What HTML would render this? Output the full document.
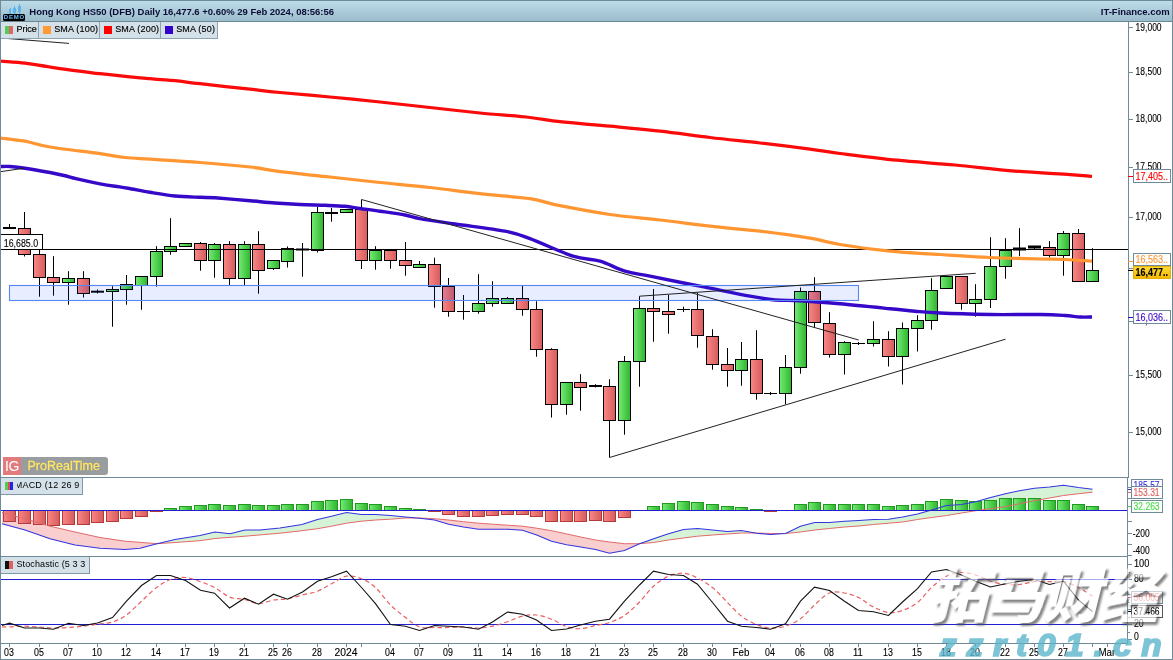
<!DOCTYPE html>
<html lang="en"><head><meta charset="utf-8"><title>Hong Kong HS50 (DFB) Daily</title>
<style>
html,body{margin:0;padding:0;background:#fff;}
body{width:1173px;height:660px;position:relative;overflow:hidden;font-family:"Liberation Sans", sans-serif;}
#frame{position:absolute;left:0;top:0;width:1173px;height:660px;box-sizing:border-box;border-left:1px solid #6f8a98;border-right:1px solid #6f8a98;border-bottom:1px solid #6f8a98;pointer-events:none;z-index:9}
#hdr{position:absolute;left:0;top:0;width:1173px;height:22px;box-sizing:border-box;border-top:1px solid #708b98;border-bottom:1px solid #6b8794;background:linear-gradient(#bddcea,#9bbccb);}
#title{position:absolute;left:29.3px;top:3.5px;font-size:9.5px;line-height:13px;font-weight:bold;color:#0c0c34;white-space:nowrap;letter-spacing:-0.02px}
#itf{position:absolute;right:3.3px;top:3.5px;font-size:9.5px;line-height:13px;font-weight:bold;color:#0c0c34;white-space:nowrap;letter-spacing:-0.02px}
#demo{position:absolute;left:3px;top:13px;width:22px;height:7px;background:#000;border-radius:1.5px;color:#6bbcff;font-size:6px;line-height:7.5px;font-weight:bold;text-align:center;letter-spacing:0.75px;text-indent:0.6px;overflow:hidden}
.ic{position:absolute;background:#5ab4f0}
#legend{position:absolute;left:1px;top:22px;height:16px;display:flex;background:#d4e1e8;border-bottom:1px solid #8ea5b1;font-size:10px;line-height:15px;color:#000;white-space:nowrap}
#legend .it{position:relative;height:16px;box-sizing:border-box;border-right:1px solid #8ea5b1;}
#legend .sq{position:absolute;top:4px;width:8px;height:8px}
#legend .tx{position:absolute;top:-0.4px;font-size:9px;letter-spacing:0.17px;-webkit-text-stroke:0.15px #000}
.plab{position:absolute;left:1px;height:17px;box-sizing:border-box;background:#d4e1e8;border-right:1px solid #8199a6;border-bottom:1px solid #8199a6;font-size:9px;line-height:16px;white-space:nowrap;overflow:hidden}
.ptx{position:absolute;top:-1px;height:17px;overflow:hidden;letter-spacing:0.12px}
#prt{position:absolute;left:3px;top:457px;height:18px;width:105px;background:#9a9da0;border-radius:0 3px 3px 0;overflow:hidden}
#prt .ig{position:absolute;left:0;top:0;width:18px;height:18px;background:#e27c7c;color:#fff;font-size:14px;line-height:18px;text-align:center;letter-spacing:-0.5px}
#prt .pt{position:absolute;left:24.5px;top:0;font-size:12.5px;line-height:18px;color:#ffe86a;-webkit-text-stroke:0.3px #ffe86a;text-shadow:0 0 1px #7d7d60}
#wm1{position:absolute;left:924px;top:557px;font-family:"Liberation Sans","Noto Sans CJK SC",sans-serif;font-weight:900;font-size:58px;line-height:80px;color:#fff;white-space:nowrap;transform:skewX(-14deg);transform-origin:left bottom;filter:url(#wmf);letter-spacing:-1px;z-index:5}
#wm2{position:absolute;left:940px;top:625.2px;font-weight:bold;font-style:italic;font-size:31.5px;line-height:40px;letter-spacing:9.3px;color:#5cb6cc;-webkit-text-stroke:1.7px #5cb6cc;opacity:0.8;white-space:nowrap;transform:scaleX(1.06);transform-origin:left center;z-index:5}
</style></head>
<body>
<svg width="1173" height="660" viewBox="0 0 1173 660" style="position:absolute;left:0;top:0" font-family='"Liberation Sans", sans-serif' font-size="10">
<defs>
<linearGradient id="gg" x1="0" x2="1" y1="0" y2="0"><stop offset="0" stop-color="#74ec74"/><stop offset="1" stop-color="#2fb52f"/></linearGradient>
<linearGradient id="gr" x1="0" x2="1" y1="0" y2="0"><stop offset="0" stop-color="#fa8686"/><stop offset="1" stop-color="#d55c5c"/></linearGradient>
<filter id="wmf" x="-5%" y="-10%" width="115%" height="130%" color-interpolation-filters="sRGB">
<feGaussianBlur in="SourceAlpha" stdDeviation="0.9" result="b"/>
<feOffset in="b" dx="3" dy="2.6" result="ob"/>
<feComposite in="ob" in2="SourceAlpha" operator="out" result="so"/>
<feFlood flood-color="#505050" flood-opacity="0.7"/>
<feComposite in2="so" operator="in" result="sh"/>
<feComponentTransfer in="SourceGraphic" result="sg"><feFuncA type="linear" slope="0.62"/></feComponentTransfer>
<feMerge><feMergeNode in="sh"/><feMergeNode in="sg"/></feMerge>
</filter>
<linearGradient id="gy" x1="0" x2="0" y1="0" y2="1"><stop offset="0" stop-color="#ffdb3d"/><stop offset="1" stop-color="#f3b600"/></linearGradient>
<clipPath id="cm"><rect x="1" y="22" width="1127" height="455"/></clipPath>
<clipPath id="cmacd"><rect x="1" y="478" width="1126" height="78"/></clipPath>
<clipPath id="cst"><rect x="1" y="557" width="1126" height="86"/></clipPath>
</defs>
<g clip-path="url(#cm)">
<rect x="9.0" y="224.0" width="1" height="5.0" fill="#000"/>
<rect x="3" y="227.0" width="13" height="2" fill="#000"/>
<rect x="24.0" y="212.0" width="1" height="44.5" fill="#000"/>
<rect x="18.5" y="228.5" width="12" height="26" fill="url(#gr)" stroke="#000" stroke-width="1"/>
<rect x="39.0" y="250.0" width="1" height="46.7" fill="#000"/>
<rect x="33.5" y="254.5" width="12" height="23" fill="url(#gr)" stroke="#000" stroke-width="1"/>
<rect x="53.0" y="256.2" width="1" height="39.5" fill="#000"/>
<rect x="47.5" y="277.5" width="12" height="5" fill="url(#gr)" stroke="#000" stroke-width="1"/>
<rect x="68.0" y="271.2" width="1" height="33.5" fill="#000"/>
<rect x="62.5" y="278.5" width="12" height="4" fill="url(#gg)" stroke="#000" stroke-width="1"/>
<rect x="83.0" y="271.2" width="1" height="26.3" fill="#000"/>
<rect x="77.5" y="278.5" width="12" height="15" fill="url(#gr)" stroke="#000" stroke-width="1"/>
<rect x="97.0" y="289.5" width="1" height="4.0" fill="#000"/>
<rect x="91" y="290.7" width="13" height="2" fill="#000"/>
<rect x="112.0" y="286.2" width="1" height="40.5" fill="#000"/>
<rect x="106.5" y="289.5" width="12" height="2" fill="url(#gg)" stroke="#000" stroke-width="1"/>
<rect x="126.0" y="275.0" width="1" height="29.7" fill="#000"/>
<rect x="120.5" y="284.5" width="12" height="5" fill="url(#gg)" stroke="#000" stroke-width="1"/>
<rect x="141.0" y="276.5" width="1" height="33.2" fill="#000"/>
<rect x="135.5" y="276.5" width="12" height="9" fill="url(#gg)" stroke="#000" stroke-width="1"/>
<rect x="156.0" y="246.2" width="1" height="40.5" fill="#000"/>
<rect x="150.5" y="251.5" width="12" height="25" fill="url(#gg)" stroke="#000" stroke-width="1"/>
<rect x="170.0" y="218.2" width="1" height="36.5" fill="#000"/>
<rect x="164.5" y="246.5" width="12" height="5" fill="url(#gg)" stroke="#000" stroke-width="1"/>
<rect x="185.0" y="243.2" width="1" height="3.3" fill="#000"/>
<rect x="179.5" y="243.5" width="12" height="3" fill="url(#gg)" stroke="#000" stroke-width="1"/>
<rect x="200.0" y="242.0" width="1" height="28.7" fill="#000"/>
<rect x="194.5" y="243.5" width="12" height="17" fill="url(#gr)" stroke="#000" stroke-width="1"/>
<rect x="214.0" y="243.0" width="1" height="34.7" fill="#000"/>
<rect x="208.5" y="244.5" width="12" height="16" fill="url(#gg)" stroke="#000" stroke-width="1"/>
<rect x="229.0" y="241.2" width="1" height="43.8" fill="#000"/>
<rect x="223.5" y="244.5" width="12" height="34" fill="url(#gr)" stroke="#000" stroke-width="1"/>
<rect x="244.0" y="241.2" width="1" height="43.8" fill="#000"/>
<rect x="238.5" y="244.5" width="12" height="34" fill="url(#gg)" stroke="#000" stroke-width="1"/>
<rect x="258.0" y="231.2" width="1" height="62.5" fill="#000"/>
<rect x="252.5" y="244.5" width="12" height="26" fill="url(#gr)" stroke="#000" stroke-width="1"/>
<rect x="273.0" y="260.5" width="1" height="9.5" fill="#000"/>
<rect x="267.5" y="260.5" width="12" height="8" fill="url(#gg)" stroke="#000" stroke-width="1"/>
<rect x="287.0" y="246.5" width="1" height="21.0" fill="#000"/>
<rect x="281.5" y="248.5" width="12" height="13" fill="url(#gg)" stroke="#000" stroke-width="1"/>
<rect x="302.0" y="243.0" width="1" height="33.7" fill="#000"/>
<rect x="296" y="248.5" width="13" height="2" fill="#000"/>
<rect x="317.0" y="207.0" width="1" height="45.5" fill="#000"/>
<rect x="311.5" y="212.5" width="12" height="38" fill="url(#gg)" stroke="#000" stroke-width="1"/>
<rect x="331.0" y="208.0" width="1" height="13.7" fill="#000"/>
<rect x="325" y="212.0" width="13" height="2" fill="#000"/>
<rect x="346.0" y="209.5" width="1" height="3.0" fill="#000"/>
<rect x="340.5" y="209.5" width="12" height="3" fill="url(#gg)" stroke="#000" stroke-width="1"/>
<rect x="361.0" y="199.5" width="1" height="69.5" fill="#000"/>
<rect x="355.5" y="209.5" width="12" height="51" fill="url(#gr)" stroke="#000" stroke-width="1"/>
<rect x="375.0" y="246.2" width="1" height="23.5" fill="#000"/>
<rect x="369.5" y="250.5" width="12" height="10" fill="url(#gg)" stroke="#000" stroke-width="1"/>
<rect x="390.0" y="250.2" width="1" height="18.5" fill="#000"/>
<rect x="384.5" y="250.5" width="12" height="10" fill="url(#gr)" stroke="#000" stroke-width="1"/>
<rect x="405.0" y="242.0" width="1" height="33.7" fill="#000"/>
<rect x="399.5" y="260.5" width="12" height="5" fill="url(#gr)" stroke="#000" stroke-width="1"/>
<rect x="419.0" y="261.0" width="1" height="6.2" fill="#000"/>
<rect x="413.5" y="264.5" width="12" height="3" fill="url(#gg)" stroke="#000" stroke-width="1"/>
<rect x="434.0" y="257.7" width="1" height="50.0" fill="#000"/>
<rect x="428.5" y="264.5" width="12" height="22" fill="url(#gr)" stroke="#000" stroke-width="1"/>
<rect x="448.0" y="278.0" width="1" height="38.7" fill="#000"/>
<rect x="442.5" y="286.5" width="12" height="25" fill="url(#gr)" stroke="#000" stroke-width="1"/>
<rect x="463.0" y="295.0" width="1" height="24.7" fill="#000"/>
<rect x="457" y="311" width="13" height="1" fill="#000"/>
<rect x="478.0" y="274.2" width="1" height="39.5" fill="#000"/>
<rect x="472.5" y="303.5" width="12" height="8" fill="url(#gg)" stroke="#000" stroke-width="1"/>
<rect x="492.0" y="281.2" width="1" height="25.5" fill="#000"/>
<rect x="486.5" y="298.5" width="12" height="5" fill="url(#gg)" stroke="#000" stroke-width="1"/>
<rect x="507.0" y="297.0" width="1" height="6.2" fill="#000"/>
<rect x="501.5" y="298.5" width="12" height="5" fill="url(#gg)" stroke="#000" stroke-width="1"/>
<rect x="522.0" y="285.5" width="1" height="30.2" fill="#000"/>
<rect x="516.5" y="298.5" width="12" height="11" fill="url(#gr)" stroke="#000" stroke-width="1"/>
<rect x="536.0" y="301.2" width="1" height="55.5" fill="#000"/>
<rect x="530.5" y="309.5" width="12" height="40" fill="url(#gr)" stroke="#000" stroke-width="1"/>
<rect x="551.0" y="348.2" width="1" height="69.3" fill="#000"/>
<rect x="545.5" y="349.5" width="12" height="55" fill="url(#gr)" stroke="#000" stroke-width="1"/>
<rect x="566.0" y="382.2" width="1" height="32.5" fill="#000"/>
<rect x="560.5" y="382.5" width="12" height="22" fill="url(#gg)" stroke="#000" stroke-width="1"/>
<rect x="580.0" y="374.2" width="1" height="36.5" fill="#000"/>
<rect x="574.5" y="382.5" width="12" height="5" fill="url(#gr)" stroke="#000" stroke-width="1"/>
<rect x="595.0" y="384.2" width="1" height="3.3" fill="#000"/>
<rect x="589" y="385.0" width="13" height="2" fill="#000"/>
<rect x="609.0" y="379.2" width="1" height="78.3" fill="#000"/>
<rect x="603.5" y="386.5" width="12" height="34" fill="url(#gr)" stroke="#000" stroke-width="1"/>
<rect x="624.0" y="356.0" width="1" height="78.7" fill="#000"/>
<rect x="618.5" y="361.5" width="12" height="59" fill="url(#gg)" stroke="#000" stroke-width="1"/>
<rect x="639.0" y="296.2" width="1" height="90.5" fill="#000"/>
<rect x="633.5" y="308.5" width="12" height="53" fill="url(#gg)" stroke="#000" stroke-width="1"/>
<rect x="653.0" y="289.0" width="1" height="52.7" fill="#000"/>
<rect x="647.5" y="308.5" width="12" height="3" fill="url(#gr)" stroke="#000" stroke-width="1"/>
<rect x="668.0" y="295.0" width="1" height="38.7" fill="#000"/>
<rect x="662.5" y="311.5" width="12" height="3" fill="url(#gr)" stroke="#000" stroke-width="1"/>
<rect x="683.0" y="306.7" width="1" height="5.3" fill="#000"/>
<rect x="677" y="309" width="13" height="1" fill="#000"/>
<rect x="697.0" y="292.5" width="1" height="55.2" fill="#000"/>
<rect x="691.5" y="309.5" width="12" height="26" fill="url(#gr)" stroke="#000" stroke-width="1"/>
<rect x="712.0" y="329.2" width="1" height="40.5" fill="#000"/>
<rect x="706.5" y="336.5" width="12" height="28" fill="url(#gr)" stroke="#000" stroke-width="1"/>
<rect x="727.0" y="348.0" width="1" height="38.7" fill="#000"/>
<rect x="721.5" y="364.5" width="12" height="6" fill="url(#gr)" stroke="#000" stroke-width="1"/>
<rect x="741.0" y="342.0" width="1" height="43.7" fill="#000"/>
<rect x="735.5" y="359.5" width="12" height="11" fill="url(#gg)" stroke="#000" stroke-width="1"/>
<rect x="756.0" y="330.2" width="1" height="69.5" fill="#000"/>
<rect x="750.5" y="359.5" width="12" height="34" fill="url(#gr)" stroke="#000" stroke-width="1"/>
<rect x="770.0" y="392.0" width="1" height="3.0" fill="#000"/>
<rect x="764" y="393" width="13" height="1" fill="#000"/>
<rect x="785.0" y="355.0" width="1" height="49.2" fill="#000"/>
<rect x="779.5" y="367.5" width="12" height="26" fill="url(#gg)" stroke="#000" stroke-width="1"/>
<rect x="800.0" y="287.5" width="1" height="86.2" fill="#000"/>
<rect x="794.5" y="291.5" width="12" height="76" fill="url(#gg)" stroke="#000" stroke-width="1"/>
<rect x="814.0" y="277.2" width="1" height="50.8" fill="#000"/>
<rect x="808.5" y="291.5" width="12" height="31" fill="url(#gr)" stroke="#000" stroke-width="1"/>
<rect x="829.0" y="312.2" width="1" height="45.3" fill="#000"/>
<rect x="823.5" y="323.5" width="12" height="31" fill="url(#gr)" stroke="#000" stroke-width="1"/>
<rect x="844.0" y="341.2" width="1" height="33.3" fill="#000"/>
<rect x="838.5" y="342.5" width="12" height="12" fill="url(#gg)" stroke="#000" stroke-width="1"/>
<rect x="858.0" y="342.0" width="1" height="3.0" fill="#000"/>
<rect x="852" y="343" width="13" height="1" fill="#000"/>
<rect x="873.0" y="321.2" width="1" height="25.3" fill="#000"/>
<rect x="867.5" y="339.5" width="12" height="4" fill="url(#gg)" stroke="#000" stroke-width="1"/>
<rect x="888.0" y="331.2" width="1" height="35.3" fill="#000"/>
<rect x="882.5" y="339.5" width="12" height="17" fill="url(#gr)" stroke="#000" stroke-width="1"/>
<rect x="902.0" y="322.5" width="1" height="62.0" fill="#000"/>
<rect x="896.5" y="328.5" width="12" height="28" fill="url(#gg)" stroke="#000" stroke-width="1"/>
<rect x="917.0" y="315.2" width="1" height="36.3" fill="#000"/>
<rect x="911.5" y="320.5" width="12" height="8" fill="url(#gg)" stroke="#000" stroke-width="1"/>
<rect x="931.0" y="278.2" width="1" height="51.5" fill="#000"/>
<rect x="925.5" y="290.5" width="12" height="30" fill="url(#gg)" stroke="#000" stroke-width="1"/>
<rect x="946.0" y="275.5" width="1" height="13.0" fill="#000"/>
<rect x="940.5" y="276.5" width="12" height="12" fill="url(#gg)" stroke="#000" stroke-width="1"/>
<rect x="961.0" y="276.5" width="1" height="33.2" fill="#000"/>
<rect x="955.5" y="276.5" width="12" height="27" fill="url(#gr)" stroke="#000" stroke-width="1"/>
<rect x="975.0" y="284.2" width="1" height="32.5" fill="#000"/>
<rect x="969.5" y="299.5" width="12" height="4" fill="url(#gg)" stroke="#000" stroke-width="1"/>
<rect x="990.0" y="237.2" width="1" height="70.8" fill="#000"/>
<rect x="984.5" y="266.5" width="12" height="33" fill="url(#gg)" stroke="#000" stroke-width="1"/>
<rect x="1005.0" y="238.2" width="1" height="40.5" fill="#000"/>
<rect x="999.5" y="250.5" width="12" height="16" fill="url(#gg)" stroke="#000" stroke-width="1"/>
<rect x="1019.0" y="228.2" width="1" height="28.0" fill="#000"/>
<rect x="1013" y="247.5" width="13" height="3" fill="#000"/>
<rect x="1034.0" y="246.2" width="1" height="2.8" fill="#000"/>
<rect x="1028" y="245.5" width="13" height="3" fill="#000"/>
<rect x="1049.0" y="241.2" width="1" height="16.3" fill="#000"/>
<rect x="1043.5" y="247.5" width="12" height="8" fill="url(#gr)" stroke="#000" stroke-width="1"/>
<rect x="1063.0" y="231.0" width="1" height="44.7" fill="#000"/>
<rect x="1057.5" y="233.5" width="12" height="22" fill="url(#gg)" stroke="#000" stroke-width="1"/>
<rect x="1078.0" y="229.0" width="1" height="52.5" fill="#000"/>
<rect x="1072.5" y="233.5" width="12" height="48" fill="url(#gr)" stroke="#000" stroke-width="1"/>
<rect x="1092.0" y="248.2" width="1" height="33.3" fill="#000"/>
<rect x="1086.5" y="270.5" width="12" height="11" fill="url(#gg)" stroke="#000" stroke-width="1"/>
<rect x="1" y="249" width="1127" height="1" fill="#000"/>
<path d="M1.0,61.1C5.0,61.5 16.8,62.2 25.0,63.2C33.2,64.2 37.5,65.2 50.0,67.0C62.5,68.8 83.3,71.8 100.0,73.7C116.7,75.7 137.5,77.5 150.0,78.7C162.5,79.9 166.7,79.9 175.0,80.7C183.3,81.5 187.5,82.3 200.0,83.7C212.5,85.1 236.7,87.7 250.0,89.2C263.3,90.7 266.7,91.2 280.0,92.5C293.3,93.8 313.3,95.4 330.0,97.0C346.7,98.6 363.3,100.2 380.0,102.0C396.7,103.8 413.3,105.7 430.0,107.5C446.7,109.3 463.3,111.3 480.0,113.0C496.7,114.7 516.7,116.0 530.0,117.5C543.3,119.0 546.7,120.2 560.0,121.7C573.3,123.2 593.3,124.6 610.0,126.2C626.7,127.8 643.3,129.3 660.0,131.2C676.7,133.1 693.3,135.5 710.0,137.5C726.7,139.5 743.3,141.1 760.0,143.0C776.7,144.9 796.7,147.4 810.0,149.2C823.3,150.9 825.5,151.7 840.0,153.5C854.5,155.3 877.8,158.3 897.0,160.2C916.2,162.1 935.8,163.2 955.0,165.0C974.2,166.8 992.8,169.2 1012.0,170.8C1031.2,172.4 1056.7,173.7 1070.0,174.6C1083.3,175.5 1088.3,176.0 1092.0,176.3" fill="none" stroke="#fb0a0a" stroke-width="3.25"/>
<path d="M1.0,138.1C5.0,138.6 16.8,139.7 25.0,141.2C33.2,142.7 37.5,144.9 50.0,147.0C62.5,149.1 87.5,151.9 100.0,153.7C112.5,155.4 116.7,156.6 125.0,157.5C133.3,158.4 137.5,158.4 150.0,159.2C162.5,160.0 183.3,161.2 200.0,162.5C216.7,163.8 236.7,165.5 250.0,167.0C263.3,168.5 266.7,170.0 280.0,171.7C293.3,173.4 313.3,175.2 330.0,177.0C346.7,178.8 363.3,180.8 380.0,182.5C396.7,184.2 413.3,185.6 430.0,187.5C446.7,189.4 463.3,191.8 480.0,193.7C496.7,195.6 516.7,196.7 530.0,198.7C543.3,200.7 546.7,203.1 560.0,205.7C573.3,208.3 593.3,212.1 610.0,214.5C626.7,216.9 643.3,218.1 660.0,220.0C676.7,221.9 693.3,224.3 710.0,226.2C726.7,228.1 743.3,229.2 760.0,231.2C776.7,233.2 796.7,236.0 810.0,238.2C823.3,240.4 826.7,242.3 840.0,244.5C853.3,246.7 873.3,249.5 890.0,251.2C906.7,252.9 923.3,253.4 940.0,254.5C956.7,255.6 973.3,256.8 990.0,257.5C1006.7,258.2 1027.5,258.7 1040.0,259.0C1052.5,259.3 1056.3,259.1 1065.0,259.5C1073.7,259.9 1087.5,260.9 1092.0,261.2" fill="none" stroke="#ff9632" stroke-width="3.25"/>
<path d="M1.0,166.5C2.5,166.5 6.0,166.2 10.0,166.5C14.0,166.8 18.3,167.2 25.0,168.2C31.7,169.2 43.5,171.3 50.0,172.5C56.5,173.7 59.5,174.4 64.0,175.5C68.5,176.6 71.0,177.5 77.0,178.9C83.0,180.3 93.7,182.6 100.0,183.8C106.3,185.0 110.3,185.6 115.0,186.3C119.7,187.0 122.2,187.2 128.0,188.2C133.8,189.2 142.2,191.0 150.0,192.3C157.8,193.6 166.7,195.2 175.0,196.0C183.3,196.8 193.3,197.0 200.0,197.3C206.7,197.6 206.7,197.2 215.0,197.8C223.3,198.4 240.0,199.8 250.0,200.7C260.0,201.6 266.7,202.4 275.0,203.0C283.3,203.6 291.7,204.1 300.0,204.5C308.3,204.9 317.5,205.0 325.0,205.3C332.5,205.6 339.2,205.8 345.0,206.3C350.8,206.8 354.2,207.7 360.0,208.5C365.8,209.3 372.5,210.1 380.0,211.2C387.5,212.3 398.3,213.8 405.0,215.0C411.7,216.2 411.7,217.2 420.0,218.7C428.3,220.2 440.8,221.9 455.0,224.0C469.2,226.1 492.5,228.8 505.0,231.2C517.5,233.6 518.7,234.5 530.0,238.7C541.3,242.9 561.3,252.4 573.0,256.2C584.7,259.9 591.3,258.7 600.0,261.2C608.7,263.7 616.7,268.7 625.0,271.2C633.3,273.7 637.5,273.7 650.0,276.2C662.5,278.7 683.3,282.9 700.0,286.2C716.7,289.5 737.5,293.9 750.0,296.2C762.5,298.5 766.7,299.2 775.0,300.0C783.3,300.8 789.2,300.1 800.0,300.7C810.8,301.3 825.0,302.4 840.0,303.7C855.0,305.0 877.5,307.4 890.0,308.7C902.5,309.9 906.7,310.5 915.0,311.2C923.3,311.9 927.5,312.4 940.0,313.0C952.5,313.6 973.3,314.2 990.0,314.5C1006.7,314.8 1027.5,314.3 1040.0,314.5C1052.5,314.7 1058.3,315.1 1065.0,315.5C1071.7,315.9 1075.5,316.8 1080.0,317.0C1084.5,317.2 1090.0,317.0 1092.0,317.0" fill="none" stroke="#3608c8" stroke-width="3.4"/>
<rect x="9.5" y="285.5" width="849" height="15" fill="rgba(0,50,255,0.09)" stroke="#5588f5" stroke-width="1.1"/>
<path d="M1,38 L69,43.4 M1,171.6 L24.3,168.2 M361.5,199.5 L858.7,340 M639.5,296.2 L975.7,273.3 M609.5,457.5 L1005.5,339.2" stroke="#222" stroke-width="1" fill="none"/>
</g>
<g clip-path="url(#cmacd)">
<polygon points="2.0,523.7 25.0,530.0 50.0,538.7 75.0,545.0 100.0,548.2 125.0,549.5 140.0,548.2 157.0,543.7 157.0,543.7 157.0,543.7 157.0,543.7 140.0,542.4 125.0,541.2 100.0,537.5 75.0,532.0 50.0,526.2 25.0,518.7 2.0,512.5" fill="#f8cece"/>
<polygon points="157.0,543.7 175.0,539.5 200.0,535.5 215.0,532.0 230.0,533.7 245.0,530.0 260.0,530.0 280.0,528.0 302.0,524.5 317.5,519.5 331.5,516.2 346.5,512.5 361.5,514.5 375.7,514.5 390.5,515.5 405.5,517.0 417.2,518.0 417.2,518.0 405.5,518.0 390.5,519.2 375.7,520.0 361.5,521.2 346.5,523.2 331.5,526.2 317.5,528.7 302.0,530.7 280.0,533.2 260.0,534.9 245.0,536.2 230.0,537.4 215.0,538.5 200.0,540.7 175.0,542.5 157.0,543.7" fill="#d7f3d7"/>
<polygon points="417.2,518.0 419.5,518.2 434.5,520.0 448.7,524.2 463.5,527.0 478.5,529.2 492.5,529.2 507.5,529.2 522.5,530.2 536.7,535.0 551.5,541.2 566.5,544.7 580.7,547.0 595.5,549.5 609.5,553.2 624.5,550.5 639.5,543.7 639.5,543.7 639.5,543.7 639.5,543.7 624.5,543.7 609.5,542.0 595.5,540.0 580.7,537.0 566.5,533.9 551.5,530.7 536.7,528.2 522.5,526.2 507.5,525.2 492.5,524.2 478.5,523.2 463.5,521.7 448.7,520.0 434.5,518.7 419.5,518.0 417.2,518.0" fill="#f8cece"/>
<polygon points="639.5,543.7 653.7,538.7 668.5,533.7 683.5,529.5 697.5,528.5 712.5,530.0 727.5,531.5 741.5,530.5 755.4,533.0 755.4,533.0 741.5,533.0 727.5,534.0 712.5,535.0 697.5,536.2 683.5,538.0 668.5,540.0 653.7,542.5 639.5,543.7" fill="#d7f3d7"/>
<polygon points="755.4,533.0 756.5,533.2 770.5,534.5 785.5,533.5 785.5,533.5 785.5,533.5 785.5,533.5 770.5,533.5 756.5,533.0 755.4,533.0" fill="#f8cece"/>
<polygon points="785.5,533.5 800.5,526.2 814.7,522.5 829.5,522.5 844.5,521.2 858.7,520.5 873.5,519.5 888.5,519.2 902.7,517.0 917.5,514.0 931.7,510.0 946.5,505.5 961.5,504.5 975.7,501.7 990.5,497.5 1005.5,493.7 1019.5,490.7 1034.5,488.2 1049.5,487.0 1063.5,485.2 1078.5,487.5 1092.5,489.2 1092.5,492.2 1078.5,493.7 1063.5,495.5 1049.5,498.0 1034.5,500.7 1019.5,503.7 1005.5,506.7 990.5,508.7 975.7,510.7 961.5,513.0 946.5,515.5 931.7,517.5 917.5,519.5 902.7,522.0 888.5,523.2 873.5,524.5 858.7,526.0 844.5,527.0 829.5,528.5 814.7,530.0 800.5,532.0 785.5,533.5" fill="#d7f3d7"/>
<rect x="3.5" y="510.5" width="12" height="11" fill="url(#gr)" stroke="#b53a3a" stroke-width="1"/>
<rect x="18.5" y="510.5" width="12" height="13" fill="url(#gr)" stroke="#b53a3a" stroke-width="1"/>
<rect x="33.5" y="510.5" width="12" height="14" fill="url(#gr)" stroke="#b53a3a" stroke-width="1"/>
<rect x="47.5" y="510.5" width="12" height="15" fill="url(#gr)" stroke="#b53a3a" stroke-width="1"/>
<rect x="62.5" y="510.5" width="12" height="14" fill="url(#gr)" stroke="#b53a3a" stroke-width="1"/>
<rect x="77.5" y="510.5" width="12" height="14" fill="url(#gr)" stroke="#b53a3a" stroke-width="1"/>
<rect x="91.5" y="510.5" width="12" height="12" fill="url(#gr)" stroke="#b53a3a" stroke-width="1"/>
<rect x="106.5" y="510.5" width="12" height="11" fill="url(#gr)" stroke="#b53a3a" stroke-width="1"/>
<rect x="120.5" y="510.5" width="12" height="8" fill="url(#gr)" stroke="#b53a3a" stroke-width="1"/>
<rect x="135.5" y="510.5" width="12" height="6" fill="url(#gr)" stroke="#b53a3a" stroke-width="1"/>
<rect x="150.5" y="510.5" width="12" height="1" fill="url(#gr)" stroke="#b53a3a" stroke-width="1"/>
<rect x="164.5" y="508.5" width="12" height="2" fill="url(#gg)" stroke="#1f9a1f" stroke-width="1"/>
<rect x="179.5" y="506.5" width="12" height="4" fill="url(#gg)" stroke="#1f9a1f" stroke-width="1"/>
<rect x="194.5" y="505.5" width="12" height="5" fill="url(#gg)" stroke="#1f9a1f" stroke-width="1"/>
<rect x="208.5" y="504.5" width="12" height="6" fill="url(#gg)" stroke="#1f9a1f" stroke-width="1"/>
<rect x="223.5" y="505.5" width="12" height="5" fill="url(#gg)" stroke="#1f9a1f" stroke-width="1"/>
<rect x="238.5" y="504.5" width="12" height="6" fill="url(#gg)" stroke="#1f9a1f" stroke-width="1"/>
<rect x="252.5" y="505.5" width="12" height="5" fill="url(#gg)" stroke="#1f9a1f" stroke-width="1"/>
<rect x="267.5" y="505.5" width="12" height="5" fill="url(#gg)" stroke="#1f9a1f" stroke-width="1"/>
<rect x="281.5" y="504.5" width="12" height="6" fill="url(#gg)" stroke="#1f9a1f" stroke-width="1"/>
<rect x="296.5" y="504.5" width="12" height="6" fill="url(#gg)" stroke="#1f9a1f" stroke-width="1"/>
<rect x="311.5" y="501.5" width="12" height="9" fill="url(#gg)" stroke="#1f9a1f" stroke-width="1"/>
<rect x="325.5" y="500.5" width="12" height="10" fill="url(#gg)" stroke="#1f9a1f" stroke-width="1"/>
<rect x="340.5" y="499.5" width="12" height="11" fill="url(#gg)" stroke="#1f9a1f" stroke-width="1"/>
<rect x="355.5" y="503.5" width="12" height="7" fill="url(#gg)" stroke="#1f9a1f" stroke-width="1"/>
<rect x="369.5" y="504.5" width="12" height="6" fill="url(#gg)" stroke="#1f9a1f" stroke-width="1"/>
<rect x="384.5" y="506.5" width="12" height="4" fill="url(#gg)" stroke="#1f9a1f" stroke-width="1"/>
<rect x="399.5" y="508.5" width="12" height="2" fill="url(#gg)" stroke="#1f9a1f" stroke-width="1"/>
<rect x="413.5" y="509.5" width="12" height="1" fill="url(#gg)" stroke="#1f9a1f" stroke-width="1"/>
<rect x="428.5" y="510.5" width="12" height="1" fill="url(#gr)" stroke="#b53a3a" stroke-width="1"/>
<rect x="442.5" y="510.5" width="12" height="4" fill="url(#gr)" stroke="#b53a3a" stroke-width="1"/>
<rect x="457.5" y="510.5" width="12" height="6" fill="url(#gr)" stroke="#b53a3a" stroke-width="1"/>
<rect x="472.5" y="510.5" width="12" height="6" fill="url(#gr)" stroke="#b53a3a" stroke-width="1"/>
<rect x="486.5" y="510.5" width="12" height="5" fill="url(#gr)" stroke="#b53a3a" stroke-width="1"/>
<rect x="501.5" y="510.5" width="12" height="4" fill="url(#gr)" stroke="#b53a3a" stroke-width="1"/>
<rect x="516.5" y="510.5" width="12" height="4" fill="url(#gr)" stroke="#b53a3a" stroke-width="1"/>
<rect x="530.5" y="510.5" width="12" height="6" fill="url(#gr)" stroke="#b53a3a" stroke-width="1"/>
<rect x="545.5" y="510.5" width="12" height="11" fill="url(#gr)" stroke="#b53a3a" stroke-width="1"/>
<rect x="560.5" y="510.5" width="12" height="11" fill="url(#gr)" stroke="#b53a3a" stroke-width="1"/>
<rect x="574.5" y="510.5" width="12" height="11" fill="url(#gr)" stroke="#b53a3a" stroke-width="1"/>
<rect x="589.5" y="510.5" width="12" height="10" fill="url(#gr)" stroke="#b53a3a" stroke-width="1"/>
<rect x="603.5" y="510.5" width="12" height="11" fill="url(#gr)" stroke="#b53a3a" stroke-width="1"/>
<rect x="618.5" y="510.5" width="12" height="7" fill="url(#gr)" stroke="#b53a3a" stroke-width="1"/>
<rect x="647.5" y="506.5" width="12" height="4" fill="url(#gg)" stroke="#1f9a1f" stroke-width="1"/>
<rect x="662.5" y="503.5" width="12" height="7" fill="url(#gg)" stroke="#1f9a1f" stroke-width="1"/>
<rect x="677.5" y="501.5" width="12" height="9" fill="url(#gg)" stroke="#1f9a1f" stroke-width="1"/>
<rect x="691.5" y="502.5" width="12" height="8" fill="url(#gg)" stroke="#1f9a1f" stroke-width="1"/>
<rect x="706.5" y="504.5" width="12" height="6" fill="url(#gg)" stroke="#1f9a1f" stroke-width="1"/>
<rect x="721.5" y="506.5" width="12" height="4" fill="url(#gg)" stroke="#1f9a1f" stroke-width="1"/>
<rect x="735.5" y="507.5" width="12" height="3" fill="url(#gg)" stroke="#1f9a1f" stroke-width="1"/>
<rect x="750.5" y="509.5" width="12" height="1" fill="url(#gg)" stroke="#1f9a1f" stroke-width="1"/>
<rect x="764.5" y="510.5" width="12" height="1" fill="url(#gr)" stroke="#b53a3a" stroke-width="1"/>
<rect x="794.5" y="504.5" width="12" height="6" fill="url(#gg)" stroke="#1f9a1f" stroke-width="1"/>
<rect x="808.5" y="502.5" width="12" height="8" fill="url(#gg)" stroke="#1f9a1f" stroke-width="1"/>
<rect x="823.5" y="504.5" width="12" height="6" fill="url(#gg)" stroke="#1f9a1f" stroke-width="1"/>
<rect x="838.5" y="504.5" width="12" height="6" fill="url(#gg)" stroke="#1f9a1f" stroke-width="1"/>
<rect x="852.5" y="504.5" width="12" height="6" fill="url(#gg)" stroke="#1f9a1f" stroke-width="1"/>
<rect x="867.5" y="504.5" width="12" height="6" fill="url(#gg)" stroke="#1f9a1f" stroke-width="1"/>
<rect x="882.5" y="506.5" width="12" height="4" fill="url(#gg)" stroke="#1f9a1f" stroke-width="1"/>
<rect x="896.5" y="505.5" width="12" height="5" fill="url(#gg)" stroke="#1f9a1f" stroke-width="1"/>
<rect x="911.5" y="504.5" width="12" height="6" fill="url(#gg)" stroke="#1f9a1f" stroke-width="1"/>
<rect x="925.5" y="501.5" width="12" height="9" fill="url(#gg)" stroke="#1f9a1f" stroke-width="1"/>
<rect x="940.5" y="499.5" width="12" height="11" fill="url(#gg)" stroke="#1f9a1f" stroke-width="1"/>
<rect x="955.5" y="500.5" width="12" height="10" fill="url(#gg)" stroke="#1f9a1f" stroke-width="1"/>
<rect x="969.5" y="501.5" width="12" height="9" fill="url(#gg)" stroke="#1f9a1f" stroke-width="1"/>
<rect x="984.5" y="500.5" width="12" height="10" fill="url(#gg)" stroke="#1f9a1f" stroke-width="1"/>
<rect x="999.5" y="498.5" width="12" height="12" fill="url(#gg)" stroke="#1f9a1f" stroke-width="1"/>
<rect x="1013.5" y="498.5" width="12" height="12" fill="url(#gg)" stroke="#1f9a1f" stroke-width="1"/>
<rect x="1028.5" y="498.5" width="12" height="12" fill="url(#gg)" stroke="#1f9a1f" stroke-width="1"/>
<rect x="1043.5" y="500.5" width="12" height="10" fill="url(#gg)" stroke="#1f9a1f" stroke-width="1"/>
<rect x="1057.5" y="500.5" width="12" height="10" fill="url(#gg)" stroke="#1f9a1f" stroke-width="1"/>
<rect x="1072.5" y="504.5" width="12" height="6" fill="url(#gg)" stroke="#1f9a1f" stroke-width="1"/>
<rect x="1086.5" y="506.5" width="12" height="4" fill="url(#gg)" stroke="#1f9a1f" stroke-width="1"/>
<polyline points="2.0,512.5 25.0,518.7 50.0,526.2 75.0,532.0 100.0,537.5 125.0,541.2 157.0,543.7 175.0,542.5 200.0,540.7 215.0,538.5 245.0,536.2 280.0,533.2 302.0,530.7 317.5,528.7 331.5,526.2 346.5,523.2 361.5,521.2 375.7,520.0 390.5,519.2 405.5,518.0 419.5,518.0 434.5,518.7 448.7,520.0 463.5,521.7 478.5,523.2 492.5,524.2 507.5,525.2 522.5,526.2 536.7,528.2 551.5,530.7 566.5,533.9 580.7,537.0 595.5,540.0 609.5,542.0 624.5,543.7 639.5,543.7 653.7,542.5 668.5,540.0 683.5,538.0 697.5,536.2 712.5,535.0 727.5,534.0 741.5,533.0 756.5,533.0 770.5,533.5 785.5,533.5 800.5,532.0 814.7,530.0 829.5,528.5 844.5,527.0 858.7,526.0 873.5,524.5 888.5,523.2 902.7,522.0 917.5,519.5 931.7,517.5 946.5,515.5 961.5,513.0 975.7,510.7 990.5,508.7 1005.5,506.7 1019.5,503.7 1034.5,500.7 1049.5,498.0 1063.5,495.5 1078.5,493.7 1092.5,492.2" fill="none" stroke="#e26a6a" stroke-width="1"/>
<polyline points="2.0,523.7 25.0,530.0 50.0,538.7 75.0,545.0 100.0,548.2 125.0,549.5 140.0,548.2 157.0,543.7 175.0,539.5 200.0,535.5 215.0,532.0 230.0,533.7 245.0,530.0 260.0,530.0 280.0,528.0 302.0,524.5 317.5,519.5 331.5,516.2 346.5,512.5 361.5,514.5 375.7,514.5 390.5,515.5 405.5,517.0 419.5,518.2 434.5,520.0 448.7,524.2 463.5,527.0 478.5,529.2 492.5,529.2 507.5,529.2 522.5,530.2 536.7,535.0 551.5,541.2 566.5,544.7 580.7,547.0 595.5,549.5 609.5,553.2 624.5,550.5 639.5,543.7 653.7,538.7 668.5,533.7 683.5,529.5 697.5,528.5 712.5,530.0 727.5,531.5 741.5,530.5 756.5,533.2 770.5,534.5 785.5,533.5 800.5,526.2 814.7,522.5 829.5,522.5 844.5,521.2 858.7,520.5 873.5,519.5 888.5,519.2 902.7,517.0 917.5,514.0 931.7,510.0 946.5,505.5 961.5,504.5 975.7,501.7 990.5,497.5 1005.5,493.7 1019.5,490.7 1034.5,488.2 1049.5,487.0 1063.5,485.2 1078.5,487.5 1092.5,489.2" fill="none" stroke="#3434e0" stroke-width="1.1"/>
<rect x="1" y="510" width="1126" height="1" fill="#2020d0"/>
</g>
<g clip-path="url(#cst)">
<rect x="1" y="579" width="1126" height="1" fill="#2020d0"/>
<rect x="1" y="624" width="1126" height="1" fill="#2020d0"/>
<path d="M2.0,627.0C3.2,627.0 5.8,626.9 9.5,626.8C13.2,626.7 19.5,626.2 24.5,626.2C29.5,626.2 34.7,626.7 39.5,627.0C44.3,627.3 48.7,628.1 53.5,628.2C58.3,628.3 63.5,627.8 68.5,627.5C73.5,627.2 78.7,626.8 83.5,626.2C88.3,625.7 92.7,624.9 97.5,624.2C102.3,623.5 107.7,623.5 112.5,622.0C117.3,620.5 121.7,618.5 126.5,615.0C131.3,611.5 136.5,605.8 141.5,601.2C146.5,596.6 151.7,591.1 156.5,587.5C161.3,583.9 165.7,581.2 170.5,579.5C175.3,577.8 180.5,577.1 185.5,577.5C190.5,577.9 195.7,580.0 200.5,581.7C205.3,583.4 209.7,585.0 214.5,587.5C219.3,590.0 224.5,595.0 229.5,597.0C234.5,599.0 239.7,598.4 244.5,599.5C249.3,600.6 253.7,603.6 258.5,603.7C263.3,603.8 268.7,600.8 273.5,600.0C278.3,599.2 282.7,599.6 287.5,598.8C292.3,598.0 297.5,596.3 302.5,595.0C307.5,593.7 312.7,593.1 317.5,591.2C322.3,589.3 326.7,586.2 331.5,583.7C336.3,581.2 341.5,577.0 346.5,576.2C351.5,575.4 356.7,576.8 361.5,578.7C366.3,580.6 370.7,583.1 375.5,587.5C380.3,591.9 385.5,600.0 390.5,605.0C395.5,610.0 400.7,613.8 405.5,617.5C410.3,621.2 414.7,625.3 419.5,627.0C424.3,628.7 429.7,627.4 434.5,627.5C439.3,627.6 443.7,627.6 448.5,627.5C453.3,627.4 458.5,626.9 463.5,627.0C468.5,627.1 473.7,628.1 478.5,628.0C483.3,627.9 487.7,627.2 492.5,626.2C497.3,625.2 502.5,623.4 507.5,621.7C512.5,620.0 517.7,617.3 522.5,616.2C527.3,615.1 531.7,614.5 536.5,615.0C541.3,615.5 546.5,617.3 551.5,619.2C556.5,621.1 561.7,624.9 566.5,626.5C571.3,628.1 575.7,628.9 580.5,628.7C585.3,628.5 590.7,626.5 595.5,625.5C600.3,624.5 604.7,624.2 609.5,622.5C614.3,620.8 619.5,618.9 624.5,615.5C629.5,612.1 634.7,606.9 639.5,602.0C644.3,597.1 648.7,590.5 653.5,586.2C658.3,581.9 663.5,578.4 668.5,576.2C673.5,574.0 678.7,572.9 683.5,573.2C688.3,573.5 692.7,575.6 697.5,578.0C702.3,580.4 707.5,583.4 712.5,587.5C717.5,591.6 722.7,597.7 727.5,602.5C732.3,607.3 736.7,612.5 741.5,616.2C746.3,619.9 751.7,622.5 756.5,624.5C761.3,626.5 765.7,627.7 770.5,628.0C775.3,628.3 780.5,627.8 785.5,626.2C790.5,624.7 795.7,622.2 800.5,618.7C805.3,615.2 809.7,609.3 814.5,605.0C819.3,600.7 824.5,595.0 829.5,593.0C834.5,591.0 839.7,592.2 844.5,593.0C849.3,593.8 853.7,595.2 858.5,597.5C863.3,599.8 868.5,604.5 873.5,607.0C878.5,609.5 883.7,611.9 888.5,612.5C893.3,613.1 897.7,612.2 902.5,610.5C907.3,608.8 912.7,606.3 917.5,602.5C922.3,598.7 926.7,591.9 931.5,587.5C936.3,583.1 941.5,578.7 946.5,576.2C951.5,573.7 956.7,572.7 961.5,572.5C966.3,572.3 970.7,573.5 975.5,575.0C980.3,576.5 985.5,579.6 990.5,581.2C995.5,582.8 1000.7,584.0 1005.5,584.5C1010.3,585.0 1014.7,585.0 1019.5,584.5C1024.3,584.0 1029.5,582.2 1034.5,581.7C1039.5,581.2 1044.7,581.7 1049.5,581.7C1054.3,581.7 1058.7,580.7 1063.5,581.7C1068.3,582.7 1073.7,585.1 1078.5,587.5C1083.3,589.9 1090.2,594.8 1092.5,596.2" fill="none" stroke="#e86060" stroke-width="1.2" stroke-dasharray="4.5,3"/>
<polyline points="2.0,625.5 9.5,623.2 24.5,628.0 39.5,628.0 53.5,629.2 68.5,623.2 83.5,625.5 97.5,623.0 112.5,617.5 126.5,601.2 141.5,585.5 156.5,575.5 170.5,575.5 185.5,580.5 200.5,590.2 214.5,593.2 229.5,608.0 244.5,598.2 258.5,604.2 273.5,594.2 287.5,599.2 302.5,592.0 317.5,581.2 331.5,576.7 346.5,571.2 361.5,587.5 375.5,603.7 390.5,624.5 405.5,626.2 419.5,630.5 434.5,625.5 448.5,626.2 463.5,627.0 478.5,629.2 492.5,622.0 507.5,612.0 522.5,614.2 536.5,620.0 551.5,630.5 566.5,629.0 580.5,625.0 595.5,621.2 609.5,619.2 624.5,601.2 639.5,585.0 653.5,571.2 668.5,574.5 683.5,575.5 697.5,584.2 712.5,602.5 727.5,621.2 741.5,626.2 756.5,627.5 770.5,629.2 785.5,623.7 800.5,601.2 814.5,587.2 829.5,590.5 844.5,601.2 858.5,610.5 873.5,611.7 888.5,615.5 902.5,602.0 917.5,588.7 931.5,572.0 946.5,569.5 961.5,575.0 975.5,581.2 990.5,587.0 1005.5,583.7 1019.5,581.2 1034.5,579.5 1049.5,584.5 1063.5,581.2 1078.5,600.0 1092.5,611.7" fill="none" stroke="#111" stroke-width="1.1"/>
</g>
<rect x="0" y="477" width="1129" height="1" fill="#6f8a98"/>
<rect x="0" y="556" width="1128" height="1" fill="#6f8a98"/>
<rect x="0" y="643" width="1128" height="1" fill="#6f8a98"/>
<rect x="1128" y="22" width="1" height="456" fill="#6f8a98"/>
<rect x="1127" y="478" width="1" height="166" fill="#6f8a98"/>
<rect x="1129" y="27" width="4" height="1" fill="#6f8a98"/>
<text x="1135.6" y="31" fill="#000" textLength="26.0" lengthAdjust="spacingAndGlyphs" stroke="#000" stroke-width="0.12">19,000</text>
<rect x="1129" y="72" width="4" height="1" fill="#6f8a98"/>
<text x="1135.6" y="75" fill="#000" textLength="26.0" lengthAdjust="spacingAndGlyphs" stroke="#000" stroke-width="0.12">18,500</text>
<rect x="1129" y="119" width="4" height="1" fill="#6f8a98"/>
<text x="1135.6" y="122" fill="#000" textLength="26.0" lengthAdjust="spacingAndGlyphs" stroke="#000" stroke-width="0.12">18,000</text>
<rect x="1129" y="167" width="4" height="1" fill="#6f8a98"/>
<text x="1135.6" y="170" fill="#000" textLength="26.0" lengthAdjust="spacingAndGlyphs" stroke="#000" stroke-width="0.12">17,500</text>
<rect x="1129" y="217" width="4" height="1" fill="#6f8a98"/>
<text x="1135.6" y="220" fill="#000" textLength="26.0" lengthAdjust="spacingAndGlyphs" stroke="#000" stroke-width="0.12">17,000</text>
<rect x="1129" y="268" width="4" height="1" fill="#6f8a98"/>
<text x="1135.6" y="271" fill="#000" textLength="26.0" lengthAdjust="spacingAndGlyphs" stroke="#000" stroke-width="0.12">16,500</text>
<rect x="1129" y="321" width="4" height="1" fill="#6f8a98"/>
<text x="1135.6" y="324" fill="#000" textLength="26.0" lengthAdjust="spacingAndGlyphs" stroke="#000" stroke-width="0.12">16,000</text>
<rect x="1129" y="375" width="4" height="1" fill="#6f8a98"/>
<text x="1135.6" y="378" fill="#000" textLength="26.0" lengthAdjust="spacingAndGlyphs" stroke="#000" stroke-width="0.12">15,500</text>
<rect x="1129" y="432" width="4" height="1" fill="#6f8a98"/>
<text x="1135.6" y="435" fill="#000" textLength="26.0" lengthAdjust="spacingAndGlyphs" stroke="#000" stroke-width="0.12">15,000</text>
<rect x="1128" y="487" width="4" height="1" fill="#6f8a98"/>
<rect x="1128" y="498" width="4" height="1" fill="#6f8a98"/>
<rect x="1128" y="521" width="4" height="1" fill="#6f8a98"/>
<rect x="1128" y="533" width="4" height="1" fill="#6f8a98"/>
<rect x="1128" y="544" width="4" height="1" fill="#6f8a98"/>
<rect x="1128" y="555" width="4" height="1" fill="#6f8a98"/>
<text x="1132.8" y="537" textLength="16.9" lengthAdjust="spacingAndGlyphs" stroke="#000" stroke-width="0.12">-200</text>
<text x="1132.8" y="554" textLength="16.9" lengthAdjust="spacingAndGlyphs" stroke="#000" stroke-width="0.12">-400</text>
<rect x="1128" y="564" width="4" height="1" fill="#6f8a98"/>
<rect x="1128" y="579" width="4" height="1" fill="#6f8a98"/>
<rect x="1128" y="594" width="4" height="1" fill="#6f8a98"/>
<rect x="1128" y="609" width="4" height="1" fill="#6f8a98"/>
<rect x="1128" y="624" width="4" height="1" fill="#6f8a98"/>
<rect x="1128" y="639" width="4" height="1" fill="#6f8a98"/>
<rect x="1128" y="572" width="2" height="1" fill="#6f8a98"/>
<rect x="1128" y="587" width="2" height="1" fill="#6f8a98"/>
<rect x="1128" y="602" width="2" height="1" fill="#6f8a98"/>
<rect x="1128" y="617" width="2" height="1" fill="#6f8a98"/>
<rect x="1128" y="632" width="2" height="1" fill="#6f8a98"/>
<text x="1133.9" y="567" textLength="15.4" lengthAdjust="spacingAndGlyphs" stroke="#000" stroke-width="0.12">100</text>
<text x="1133.9" y="582" textLength="9.8" lengthAdjust="spacingAndGlyphs" stroke="#000" stroke-width="0.12">80</text>
<text x="1133.9" y="627" textLength="9.8" lengthAdjust="spacingAndGlyphs" stroke="#000" stroke-width="0.12">20</text>
<text x="1133.9" y="640" textLength="4.8" lengthAdjust="spacingAndGlyphs" stroke="#000" stroke-width="0.12">0</text>
<rect x="9.0" y="644" width="1" height="3" fill="#6f8a98"/>
<text x="4.0" y="656" textLength="9.8" lengthAdjust="spacingAndGlyphs" stroke="#000" stroke-width="0.12">03</text>
<rect x="39.0" y="644" width="1" height="3" fill="#6f8a98"/>
<text x="34.0" y="656" textLength="9.8" lengthAdjust="spacingAndGlyphs" stroke="#000" stroke-width="0.12">05</text>
<rect x="68.0" y="644" width="1" height="3" fill="#6f8a98"/>
<text x="63.0" y="656" textLength="9.8" lengthAdjust="spacingAndGlyphs" stroke="#000" stroke-width="0.12">07</text>
<rect x="97.0" y="644" width="1" height="3" fill="#6f8a98"/>
<text x="92.0" y="656" textLength="9.8" lengthAdjust="spacingAndGlyphs" stroke="#000" stroke-width="0.12">10</text>
<rect x="126.0" y="644" width="1" height="3" fill="#6f8a98"/>
<text x="121.0" y="656" textLength="9.8" lengthAdjust="spacingAndGlyphs" stroke="#000" stroke-width="0.12">12</text>
<rect x="156.0" y="644" width="1" height="3" fill="#6f8a98"/>
<text x="151.0" y="656" textLength="9.8" lengthAdjust="spacingAndGlyphs" stroke="#000" stroke-width="0.12">14</text>
<rect x="185.0" y="644" width="1" height="3" fill="#6f8a98"/>
<text x="180.0" y="656" textLength="9.8" lengthAdjust="spacingAndGlyphs" stroke="#000" stroke-width="0.12">17</text>
<rect x="214.0" y="644" width="1" height="3" fill="#6f8a98"/>
<text x="209.0" y="656" textLength="9.8" lengthAdjust="spacingAndGlyphs" stroke="#000" stroke-width="0.12">19</text>
<rect x="244.0" y="644" width="1" height="3" fill="#6f8a98"/>
<text x="239.0" y="656" textLength="9.8" lengthAdjust="spacingAndGlyphs" stroke="#000" stroke-width="0.12">21</text>
<rect x="273.0" y="644" width="1" height="3" fill="#6f8a98"/>
<text x="268.0" y="656" textLength="9.8" lengthAdjust="spacingAndGlyphs" stroke="#000" stroke-width="0.12">25</text>
<rect x="287.0" y="644" width="1" height="3" fill="#6f8a98"/>
<text x="282.0" y="656" textLength="9.8" lengthAdjust="spacingAndGlyphs" stroke="#000" stroke-width="0.12">26</text>
<rect x="317.0" y="644" width="1" height="3" fill="#6f8a98"/>
<text x="312.0" y="656" textLength="9.8" lengthAdjust="spacingAndGlyphs" stroke="#000" stroke-width="0.12">28</text>
<rect x="346.0" y="644" width="1" height="3" fill="#6f8a98"/>
<text x="334.4" y="656" textLength="23" lengthAdjust="spacingAndGlyphs" stroke="#000" stroke-width="0.12">2024</text>
<rect x="361.0" y="644" width="1" height="3" fill="#6f8a98"/>
<rect x="390.0" y="644" width="1" height="3" fill="#6f8a98"/>
<text x="385.0" y="656" textLength="9.8" lengthAdjust="spacingAndGlyphs" stroke="#000" stroke-width="0.12">04</text>
<rect x="419.0" y="644" width="1" height="3" fill="#6f8a98"/>
<text x="414.0" y="656" textLength="9.8" lengthAdjust="spacingAndGlyphs" stroke="#000" stroke-width="0.12">07</text>
<rect x="448.0" y="644" width="1" height="3" fill="#6f8a98"/>
<text x="443.0" y="656" textLength="9.8" lengthAdjust="spacingAndGlyphs" stroke="#000" stroke-width="0.12">09</text>
<rect x="478.0" y="644" width="1" height="3" fill="#6f8a98"/>
<text x="473.0" y="656" textLength="9.8" lengthAdjust="spacingAndGlyphs" stroke="#000" stroke-width="0.12">11</text>
<rect x="507.0" y="644" width="1" height="3" fill="#6f8a98"/>
<text x="502.0" y="656" textLength="9.8" lengthAdjust="spacingAndGlyphs" stroke="#000" stroke-width="0.12">14</text>
<rect x="536.0" y="644" width="1" height="3" fill="#6f8a98"/>
<text x="531.0" y="656" textLength="9.8" lengthAdjust="spacingAndGlyphs" stroke="#000" stroke-width="0.12">16</text>
<rect x="566.0" y="644" width="1" height="3" fill="#6f8a98"/>
<text x="561.0" y="656" textLength="9.8" lengthAdjust="spacingAndGlyphs" stroke="#000" stroke-width="0.12">18</text>
<rect x="595.0" y="644" width="1" height="3" fill="#6f8a98"/>
<text x="590.0" y="656" textLength="9.8" lengthAdjust="spacingAndGlyphs" stroke="#000" stroke-width="0.12">21</text>
<rect x="624.0" y="644" width="1" height="3" fill="#6f8a98"/>
<text x="619.0" y="656" textLength="9.8" lengthAdjust="spacingAndGlyphs" stroke="#000" stroke-width="0.12">23</text>
<rect x="653.0" y="644" width="1" height="3" fill="#6f8a98"/>
<text x="648.0" y="656" textLength="9.8" lengthAdjust="spacingAndGlyphs" stroke="#000" stroke-width="0.12">25</text>
<rect x="683.0" y="644" width="1" height="3" fill="#6f8a98"/>
<text x="678.0" y="656" textLength="9.8" lengthAdjust="spacingAndGlyphs" stroke="#000" stroke-width="0.12">28</text>
<rect x="712.0" y="644" width="1" height="3" fill="#6f8a98"/>
<text x="707.0" y="656" textLength="9.8" lengthAdjust="spacingAndGlyphs" stroke="#000" stroke-width="0.12">30</text>
<rect x="741.0" y="644" width="1" height="3" fill="#6f8a98"/>
<text x="732.5" y="656" textLength="16.8" lengthAdjust="spacingAndGlyphs" stroke="#000" stroke-width="0.12">Feb</text>
<rect x="770.0" y="644" width="1" height="3" fill="#6f8a98"/>
<text x="765.0" y="656" textLength="9.8" lengthAdjust="spacingAndGlyphs" stroke="#000" stroke-width="0.12">04</text>
<rect x="800.0" y="644" width="1" height="3" fill="#6f8a98"/>
<text x="795.0" y="656" textLength="9.8" lengthAdjust="spacingAndGlyphs" stroke="#000" stroke-width="0.12">06</text>
<rect x="829.0" y="644" width="1" height="3" fill="#6f8a98"/>
<text x="824.0" y="656" textLength="9.8" lengthAdjust="spacingAndGlyphs" stroke="#000" stroke-width="0.12">08</text>
<rect x="858.0" y="644" width="1" height="3" fill="#6f8a98"/>
<text x="853.0" y="656" textLength="9.8" lengthAdjust="spacingAndGlyphs" stroke="#000" stroke-width="0.12">11</text>
<rect x="888.0" y="644" width="1" height="3" fill="#6f8a98"/>
<text x="883.0" y="656" textLength="9.8" lengthAdjust="spacingAndGlyphs" stroke="#000" stroke-width="0.12">13</text>
<rect x="917.0" y="644" width="1" height="3" fill="#6f8a98"/>
<text x="912.0" y="656" textLength="9.8" lengthAdjust="spacingAndGlyphs" stroke="#000" stroke-width="0.12">15</text>
<rect x="946.0" y="644" width="1" height="3" fill="#6f8a98"/>
<text x="941.0" y="656" textLength="9.8" lengthAdjust="spacingAndGlyphs" stroke="#000" stroke-width="0.12">18</text>
<rect x="975.0" y="644" width="1" height="3" fill="#6f8a98"/>
<text x="970.0" y="656" textLength="9.8" lengthAdjust="spacingAndGlyphs" stroke="#000" stroke-width="0.12">20</text>
<rect x="1005.0" y="644" width="1" height="3" fill="#6f8a98"/>
<text x="1000.0" y="656" textLength="9.8" lengthAdjust="spacingAndGlyphs" stroke="#000" stroke-width="0.12">22</text>
<rect x="1034.0" y="644" width="1" height="3" fill="#6f8a98"/>
<text x="1029.0" y="656" textLength="9.8" lengthAdjust="spacingAndGlyphs" stroke="#000" stroke-width="0.12">25</text>
<rect x="1063.0" y="644" width="1" height="3" fill="#6f8a98"/>
<text x="1058.0" y="656" textLength="9.8" lengthAdjust="spacingAndGlyphs" stroke="#000" stroke-width="0.12">27</text>
<rect x="1092.0" y="644" width="1" height="3" fill="#6f8a98"/>
<rect x="1107.0" y="644" width="1" height="3" fill="#6f8a98"/>
<text x="1098.5" y="656" textLength="16.8" lengthAdjust="spacingAndGlyphs" stroke="#000" stroke-width="0.12">Mar</text>
<rect x="1128" y="176" width="5" height="1" fill="#f00"/>
<rect x="1133.5" y="169.5" width="37" height="13" fill="#fdfdfd" stroke="#6f8a98" stroke-width="1"/>
<text x="1135.6" y="180" fill="#f00" textLength="32.5" lengthAdjust="spacingAndGlyphs" stroke="#f00" stroke-width="0.12">17,405..</text>
<rect x="1128" y="261" width="5" height="1" fill="#ff9632"/>
<rect x="1133.5" y="253.5" width="37" height="12" fill="#fdfdfd" stroke="#6f8a98" stroke-width="1"/>
<text x="1135.6" y="263" fill="#ff9632" textLength="32.5" lengthAdjust="spacingAndGlyphs" stroke="#ff9632" stroke-width="0.12">16,563..</text>
<rect x="1128" y="317" width="5" height="1" fill="#3608c8"/>
<rect x="1133.5" y="310.5" width="37" height="13" fill="#fdfdfd" stroke="#6f8a98" stroke-width="1"/>
<text x="1135.6" y="321" fill="#3608c8" textLength="32.5" lengthAdjust="spacingAndGlyphs" stroke="#3608c8" stroke-width="0.12">16,036..</text>
<rect x="1128" y="270" width="5" height="1" fill="#000"/>
<rect x="1133.5" y="266.5" width="37" height="12" fill="url(#gy)" stroke="#e9b000" stroke-width="1"/>
<text x="1135.6" y="276" fill="#000" font-weight="bold" textLength="32.5" lengthAdjust="spacingAndGlyphs" stroke="#000" stroke-width="0.12">16,477..</text>
<rect x="1128" y="489" width="5" height="1" fill="#3434e0"/>
<rect x="1131.5" y="479.5" width="31" height="12" fill="#fdfdfd" stroke="#6f8a98" stroke-width="1"/>
<text x="1133.6" y="489" fill="#3434e0" textLength="26" lengthAdjust="spacingAndGlyphs" stroke="#3434e0" stroke-width="0.12">185.57</text>
<rect x="1128" y="492" width="5" height="1" fill="#e26a6a"/>
<rect x="1131.5" y="486.5" width="31" height="12" fill="#fdfdfd" stroke="#6f8a98" stroke-width="1"/>
<text x="1133.6" y="496" fill="#e06060" textLength="26" lengthAdjust="spacingAndGlyphs" stroke="#e06060" stroke-width="0.12">153.31</text>
<rect x="1128" y="506" width="5" height="1" fill="#4ddc4d"/>
<rect x="1131.5" y="500.5" width="31" height="12" fill="#fdfdfd" stroke="#6f8a98" stroke-width="1"/>
<text x="1133.6" y="510" fill="#45dd45" textLength="26" lengthAdjust="spacingAndGlyphs" stroke="#45dd45" stroke-width="0.12">32.263</text>
<rect x="1128" y="597" width="5" height="1" fill="#e86060"/>
<rect x="1131.5" y="591.5" width="31" height="12" fill="#fdfdfd" stroke="#6f8a98" stroke-width="1"/>
<text x="1133.6" y="601" fill="#e86060" textLength="26" lengthAdjust="spacingAndGlyphs" stroke="#e86060" stroke-width="0.12">56.005</text>
<rect x="1128" y="611" width="5" height="1" fill="#000"/>
<rect x="1131.5" y="605.5" width="31" height="12" fill="#fdfdfd" stroke="#555" stroke-width="1"/>
<text x="1133.6" y="615" fill="#000" textLength="26" lengthAdjust="spacingAndGlyphs" stroke="#000" stroke-width="0.12">37.466</text>
<rect x="0.5" y="234.5" width="42" height="15" fill="#fff" stroke="#000" stroke-width="1"/>
<text x="3.8" y="247" fill="#000" textLength="34.3" lengthAdjust="spacingAndGlyphs" stroke="#000" stroke-width="0.12">16,685.0</text>
</svg>
<div id="hdr">
  <div class="ic" style="left:9px;top:8px;width:2px;height:5px"></div>
  <div class="ic" style="left:9.5px;top:7px;width:1px;height:6px"></div>
  <div class="ic" style="left:13px;top:6.5px;width:3px;height:5px;background:#bfe0f5;border:1px solid #5ab4f0;box-sizing:border-box"></div>
  <div class="ic" style="left:14px;top:5px;width:1px;height:8px"></div>
  <div class="ic" style="left:18px;top:4.5px;width:3px;height:6px;background:#bfe0f5;border:1px solid #5ab4f0;box-sizing:border-box"></div>
  <div class="ic" style="left:19px;top:3px;width:1px;height:10px"></div>
  <div id="demo">DEMO</div>
  <div id="title">Hong Kong HS50 (DFB) Daily 16,477.6 +0.60% 29 Feb 2024, 08:56:56</div>
  <div id="itf">IT-Finance.com</div>
</div>
<div id="legend">
  <div class="it" style="width:38px"><span class="sq" style="left:4px;width:4px;background:#55cc55"></span><span class="sq" style="left:8px;width:4px;background:#dd6666"></span><span class="tx" style="left:15.5px;letter-spacing:-0.05px">Price</span></div>
  <div class="it" style="width:61px"><span class="sq" style="left:4px;background:#ff9933"></span><span class="tx" style="left:15.2px">SMA (100)</span></div>
  <div class="it" style="width:61px"><span class="sq" style="left:4px;background:#ff0000"></span><span class="tx" style="left:15.2px">SMA (200)</span></div>
  <div class="it" style="width:57px"><span class="sq" style="left:4px;background:#3300cc"></span><span class="tx" style="left:15.2px">SMA (50)</span></div>
</div>
<div id="prt"><div class="ig">IG</div><div class="pt">ProRealTime</div></div>
<div class="plab" style="top:478px;width:82px"><span class="ptx" style="left:16px;width:64px"><span style="position:absolute;left:-2.3px;top:0;letter-spacing:0.22px">MACD (12 26 9</span></span><span style="position:absolute;left:4px;top:4px;width:3px;height:8px;background:#55cc55"></span><span style="position:absolute;left:7px;top:4px;width:2px;height:8px;background:#e04a4a"></span><span style="position:absolute;left:9px;top:4px;width:3px;height:8px;background:#2222ee"></span></div>
<div class="plab" style="top:557px;width:89px"><span class="ptx" style="left:15.4px;width:72px"><span style="position:absolute;left:0;top:0">Stochastic (5 3 3</span></span><span style="position:absolute;left:4px;top:4px;width:4px;height:8px;background:#111"></span><span style="position:absolute;left:8px;top:4px;width:4px;height:8px;background:#e06060"></span></div>
<div id="wm1">拓马财经</div>
<div id="wm2">zzrt01.cn</div>
<div id="frame"></div>
</body></html>
